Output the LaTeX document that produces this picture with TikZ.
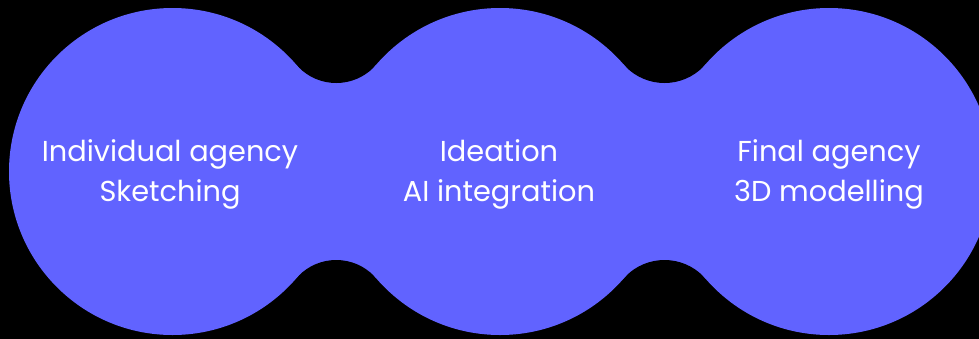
\documentclass[tikz,border=0pt]{standalone}
\usepackage{fontspec}
\setmainfont{Poppins}
\definecolor{blob}{RGB}{97,99,255}
\begin{document}
\begin{tikzpicture}[x=1pt,y=-1pt,
  lbl/.style={text=white,align=center,font=\fontsize{28.8}{40}\selectfont,inner sep=0pt}]
\useasboundingbox (0,0) rectangle (979,338);
\fill[black] (-10,-10) rectangle (989,348);
\def\R{163.5}
\def\cy{171.5}
\def\h{88.5}
% ca/cb/fillet radius/tangent height/midpoint
\foreach \ca/\cb/\r/\Ht/\m in {172.5/500/52.76/106.8/336.25,500/829/54.4/107.22/664.5}{
  \fill[blob] (\ca,\cy-\Ht) rectangle (\cb,\cy+\Ht);
  \fill[black] (\m,\cy-\h-\r) circle[radius=\r];
  \fill[black] (\m,\cy+\h+\r) circle[radius=\r];
}
\foreach \c in {172.5,500,829}{
  \fill[blob] (\c,\cy) circle[radius=\R];
}
\node[lbl] (a) at (170,174) {Individual agency\\Sketching};
\node[lbl] (b) at (499,174) {Ideation\\AI integration};
\node[lbl] (c) at (829,174) {Final agency\\3D modelling};
\end{tikzpicture}
\end{document}
